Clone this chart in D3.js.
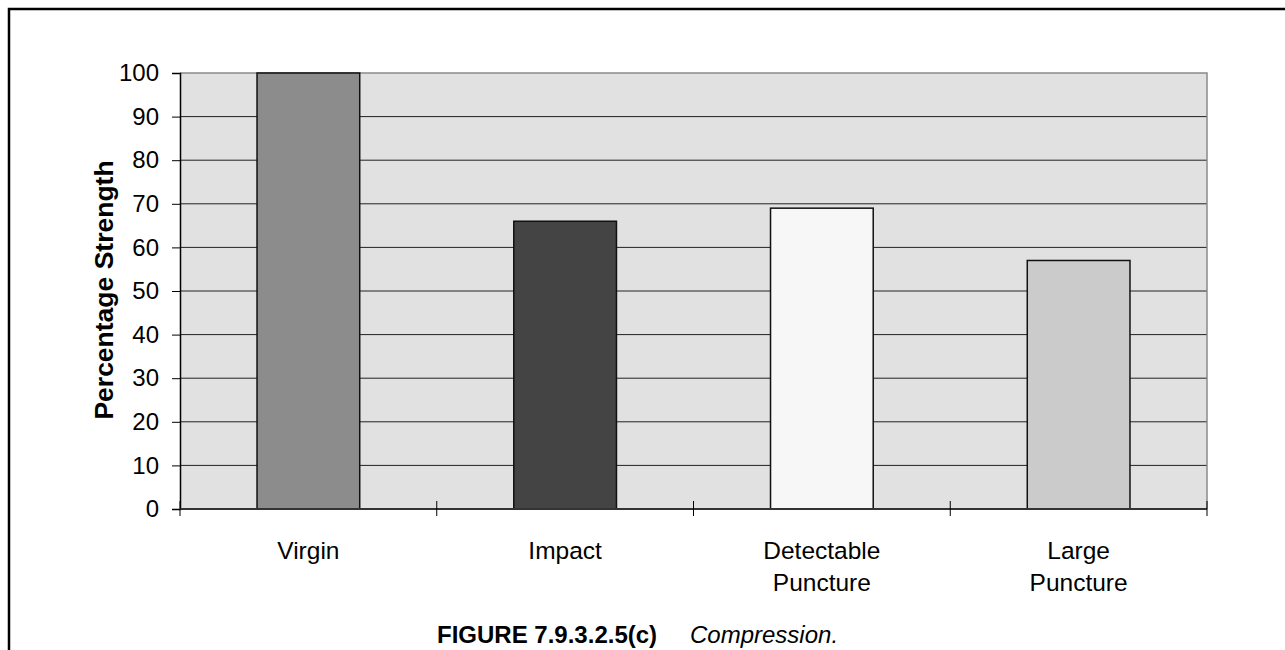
<!DOCTYPE html>
<html>
<head>
<meta charset="utf-8">
<script src="https://cdn.jsdelivr.net/npm/d3@7"></script>
<style>
  html, body { margin: 0; padding: 0; background: #fff; }
  svg { display: block; font-family: "Liberation Sans", Arial, sans-serif; }
</style>
</head>
<body>
<svg id="chart" width="1285" height="650"></svg>
<script>
const categories = ["Virgin", "Impact", "Detectable Puncture", "Large Puncture"];
const categoryLines = [["Virgin"], ["Impact"], ["Detectable", "Puncture"], ["Large", "Puncture"]];
const values = [100, 66, 69, 57];
const barColors = ["#8c8c8c", "#444444", "#f7f7f7", "#cbcbcb"];
const yTicks = [0, 10, 20, 30, 40, 50, 60, 70, 80, 90, 100];
const yTitle = "Percentage Strength";
const captionBold = "FIGURE 7.9.3.2.5(c)";
const captionItalic = "Compression.";

const svg = d3.select("#chart");
const margin = { left: 180, right: 1207, top: 73, bottom: 509 };

// outer frame (left & top only, extends past right/bottom edge)
svg.append("path")
  .attr("d", "M9,650 L9,9 L1285,9")
  .attr("fill", "none").attr("stroke", "#000").attr("stroke-width", 2.5);

const x = d3.scaleBand().domain(categories).range([margin.left, margin.right]).paddingInner(0).paddingOuter(0);
const y = d3.scaleLinear().domain([0, 100]).range([margin.bottom, margin.top]);

// plot background
svg.append("rect")
  .attr("x", margin.left).attr("y", margin.top)
  .attr("width", margin.right - margin.left).attr("height", margin.bottom - margin.top)
  .attr("fill", "#e1e1e1");

// gridlines
svg.append("g").selectAll("line").data(yTicks.filter(d => d > 0 && d < 100)).join("line")
  .attr("x1", margin.left).attr("x2", margin.right)
  .attr("y1", d => y(d)).attr("y2", d => y(d))
  .attr("stroke", "#222").attr("stroke-width", 1);

// top and right border of plot
svg.append("path")
  .attr("d", `M${margin.left},${margin.top} L${margin.right},${margin.top} L${margin.right},${margin.bottom}`)
  .attr("fill", "none").attr("stroke", "#8a8a8a").attr("stroke-width", 1.5);

// bars
const bw = x.bandwidth() * 0.4;
svg.append("g").selectAll("rect").data(categories).join("rect")
  .attr("x", d => x(d) + (x.bandwidth() - bw) / 2)
  .attr("y", (d, i) => y(values[i]))
  .attr("width", bw)
  .attr("height", (d, i) => y(0) - y(values[i]))
  .attr("fill", (d, i) => barColors[i])
  .attr("stroke", "#111").attr("stroke-width", 1.5);

// y axis
const yAxis = d3.axisLeft(y).tickValues(yTicks).tickSize(8).tickPadding(13);
const gy = svg.append("g").attr("transform", `translate(${margin.left},0)`).call(yAxis);
gy.select(".domain").attr("stroke", "#000").attr("stroke-width", 1.5);
gy.selectAll(".tick line").attr("stroke", "#000").attr("stroke-width", 1);
gy.selectAll(".tick text").attr("font-size", 24).attr("fill", "#000")
  .attr("font-family", "'Liberation Sans', Arial, sans-serif");

// x axis
const gx = svg.append("g").attr("transform", `translate(0,${margin.bottom})`);
gx.append("line").attr("x1", margin.left).attr("x2", margin.right).attr("y1", 0).attr("y2", 0)
  .attr("stroke", "#333").attr("stroke-width", 2);
const boundaries = categories.map(c => x(c)).concat([x(categories[categories.length - 1]) + x.bandwidth()]);
gx.selectAll("line.tk").data(boundaries).join("line").attr("class", "tk")
  .attr("x1", d => d).attr("x2", d => d).attr("y1", -8).attr("y2", 7)
  .attr("stroke", "#000").attr("stroke-width", 1);

// category labels
const lab = svg.append("g");
categories.forEach((c, i) => {
  const t = lab.append("text")
    .attr("x", x(c) + x.bandwidth() / 2)
    .attr("y", 559)
    .attr("text-anchor", "middle")
    .attr("font-size", 24.5).attr("fill", "#000");
  categoryLines[i].forEach((ln, j) => {
    t.append("tspan").attr("x", x(c) + x.bandwidth() / 2).attr("dy", j === 0 ? 0 : 32).text(ln);
  });
});

// y title
svg.append("text")
  .attr("transform", `translate(113,290) rotate(-90)`)
  .attr("text-anchor", "middle")
  .attr("font-size", 26.5).attr("font-weight", "bold").attr("fill", "#000")
  .text(yTitle);

// caption
const cap = svg.append("text").attr("y", 643).attr("font-size", 24).attr("fill", "#000");
cap.append("tspan").attr("x", 437).attr("font-weight", "bold").text(captionBold);
cap.append("tspan").attr("x", 690).attr("font-style", "italic").text(captionItalic);
</script>
</body>
</html>
